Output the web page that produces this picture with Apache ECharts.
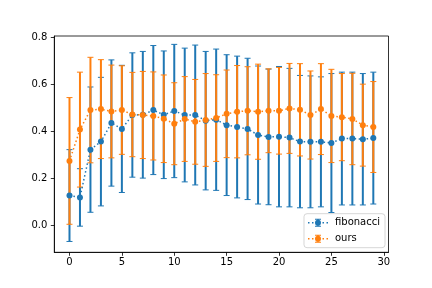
<!DOCTYPE html>
<html>
<head>
<meta charset="utf-8">
<script src="https://cdn.jsdelivr.net/npm/echarts/dist/echarts.min.js"></script>
<style>html,body{margin:0;padding:0;background:#fff}#c{width:432px;height:288px}</style>
</head>
<body>
<div id="c"></div>
<script>
var xs = [0,1,2,3,4,5,6,7,8,9,10,11,12,13,14,15,16,17,18,19,20,21,22,23,24,25,26,27,28,29];
var fibMean = [0.128,0.120,0.323,0.357,0.436,0.411,0.470,0.471,0.491,0.471,0.487,0.470,0.470,0.446,0.450,0.427,0.419,0.411,0.385,0.377,0.378,0.374,0.357,0.356,0.356,0.351,0.370,0.370,0.367,0.372];
var fibErr  = [0.195,0.122,0.266,0.273,0.268,0.270,0.264,0.269,0.274,0.271,0.283,0.284,0.297,0.294,0.300,0.299,0.301,0.300,0.293,0.288,0.298,0.294,0.281,0.280,0.276,0.295,0.282,0.282,0.279,0.280];
var oursMean = [0.275,0.408,0.491,0.495,0.485,0.491,0.472,0.470,0.466,0.454,0.433,0.453,0.441,0.449,0.457,0.475,0.484,0.488,0.484,0.488,0.488,0.498,0.492,0.470,0.495,0.466,0.461,0.453,0.427,0.419];
var oursErr  = [0.269,0.244,0.224,0.210,0.197,0.188,0.179,0.185,0.187,0.186,0.174,0.180,0.180,0.197,0.184,0.186,0.196,0.187,0.202,0.178,0.184,0.191,0.196,0.187,0.193,0.198,0.185,0.194,0.174,0.193];
var xTicks = [0,5,10,15,20,25,30];
var yTicks = [0,0.2,0.4,0.6,0.8];
var seriesNames = ['fibonacci','ours'];
var colors = ['#1f77b4','#ff7f0e'];

var FONT = 'DejaVu Sans';
var legendIcon = 'path://M0,3.25H1.5V4.75H0Z M4,3.25H5.5V4.75H4Z M14.5,3.25H16V4.75H14.5Z M18.5,3.25H20V4.75H18.5Z ' +
  'M9.25,0H10.75V8H9.25Z M7,0H13V1H7Z M7,7H13V8H7Z M7,4A3,3 0 1,1 13,4A3,3 0 1,1 7,4Z';

function errData(mean, err) {
  return xs.map(function (x, i) { return [x, mean[i] - err[i], mean[i] + err[i]]; });
}
function lineData(mean) {
  return xs.map(function (x, i) { return [x, mean[i]]; });
}
function errRender(color) {
  return function (params, api) {
    var x = api.value(0);
    var lo = api.coord([x, api.value(1)]);
    var hi = api.coord([x, api.value(2)]);
    var cx = lo[0];
    return {
      type: 'group',
      children: [
        { type: 'line', shape: { x1: cx, y1: lo[1], x2: cx, y2: hi[1] }, style: { stroke: color, lineWidth: 2 } },
        { type: 'line', shape: { x1: cx - 3, y1: lo[1], x2: cx + 3, y2: lo[1] }, style: { stroke: color, lineWidth: 1 } },
        { type: 'line', shape: { x1: cx - 3, y1: hi[1], x2: cx + 3, y2: hi[1] }, style: { stroke: color, lineWidth: 1 } }
      ]
    };
  };
}

var means = [fibMean, oursMean];
var errs = [fibErr, oursErr];
var series = [];
for (var k = 0; k < 2; k++) {
  series.push({
    name: seriesNames[k], type: 'custom', z: 2 + k,
    renderItem: errRender(colors[k]),
    encode: { x: 0, y: [1, 2] },
    itemStyle: { color: colors[k] },
    data: errData(means[k], errs[k]),
    silent: true
  });
}
for (var k2 = 0; k2 < 2; k2++) {
  series.push({
    name: seriesNames[k2], type: 'line', z: 5 + k2,
    data: lineData(means[k2]),
    symbol: 'circle', symbolSize: 6, showSymbol: true,
    itemStyle: { color: colors[k2], borderWidth: 0 },
    lineStyle: { color: colors[k2], width: 1.5, type: [1.5, 2.5] },
    silent: true
  });
}

var chart = echarts.init(document.getElementById('c'), null, { renderer: 'canvas' });
chart.setOption({
  animation: false,
  backgroundColor: '#fff',
  grid: { left: 54.3, right: 43.5, top: 36, bottom: 35.7, show: true, borderColor: '#000', borderWidth: 0.8, backgroundColor: 'transparent', containLabel: false },
  xAxis: {
    type: 'value', min: -1.45, max: 30.45,
    splitLine: { show: false },
    axisLine: { show: true, onZero: false, lineStyle: { color: '#000', width: 0.8 } },
    axisTick: { show: true, inside: false, length: 3.5, customValues: xTicks, lineStyle: { color: '#000', width: 0.8 } },
    axisLabel: { show: true, customValues: xTicks, margin: 5, color: '#000', fontSize: 10, fontFamily: FONT }
  },
  yAxis: {
    type: 'value', min: -0.113, max: 0.8055,
    splitLine: { show: false },
    axisLine: { show: true, onZero: false, lineStyle: { color: '#000', width: 0.8 } },
    axisTick: { show: true, inside: false, length: 3.5, customValues: yTicks, lineStyle: { color: '#000', width: 0.8 } },
    axisLabel: { show: true, customValues: yTicks, margin: 7, color: '#000', fontSize: 10, fontFamily: FONT,
      formatter: function (v) { return Number(v).toFixed(1); } }
  },
  legend: {
    orient: 'vertical', right: 47, bottom: 40.3,
    padding: [4, 5, 4, 4], itemGap: 6, itemWidth: 20, itemHeight: 8,
    borderColor: '#cccccc', borderWidth: 0.8, borderRadius: 3,
    backgroundColor: 'rgba(255,255,255,0.8)',
    selectedMode: false,
    itemStyle: { borderWidth: 0 },
    textStyle: { fontSize: 10, fontFamily: FONT, color: '#000', padding: [0, 0, 0, 2] },
    data: [
      { name: 'fibonacci', icon: legendIcon },
      { name: 'ours', icon: legendIcon }
    ]
  },
  series: series
});
</script>
</body>
</html>
